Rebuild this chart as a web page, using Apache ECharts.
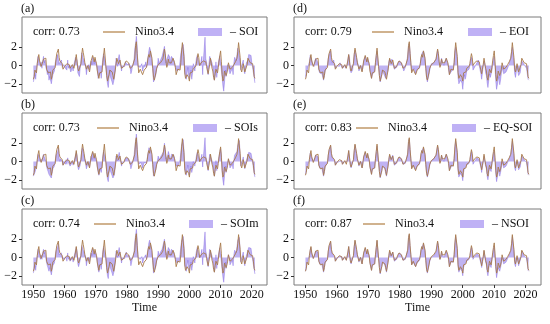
<!DOCTYPE html>
<html><head><meta charset="utf-8">
<script src="https://cdn.jsdelivr.net/npm/echarts@6/dist/echarts.min.js"></script>
<style>html,body{margin:0;padding:0;background:#fff}#c{width:550px;height:324px}</style>
</head><body><div id="c"></div>
<script>
// time axis: 4 samples per year (DJF, MAM, JJA, SON) starting 1950
const startYear = 1950.04, stepYear = 0.25;
const xTicks = [1950, 1960, 1970, 1980, 1990, 2000, 2010, 2020];
const yTicks = [-2, 0, 2];
const panelLabels = ['(a)', '(b)', '(c)', '(d)', '(e)', '(f)'];
const corrTexts = ['corr: 0.73', 'corr: 0.73', 'corr: 0.74', 'corr: 0.79', 'corr: 0.83', 'corr: 0.87'];
const indexNames = ['– SOI', '– SOIs', '– SOIm', '– EOI', '– EQ-SOI', '– NSOI'];

const nino34 = [
-1.5,-1.2,-0.5,-0.5, -0.8,0.2,0.8,1.2, 0.5,0.3,-0.1,0.1, 0.4,0.7,0.7,0.8, 0.8,-0.4,-0.6,-0.8,
-0.7,-0.8,-0.7,-1.5, -1.1,-0.5,-0.6,-0.5, -0.2,0.7,1.3,1.4, 1.8,0.9,0.5,0.4, 0.6,0.2,-0.4,-0.2,
-0.1,0.0,0.1,0.2, 0.0,0.1,0.1,-0.3, -0.1,-0.1,0.1,-0.1, -0.3,-0.1,0.6,1.2, 1.1,-0.3,-0.6,-0.8,
-0.6,0.2,1.2,1.9, 1.4,0.9,0.3,0.1, -0.4,-0.5,0.0,-0.4, -0.7,-0.5,0.5,0.4, 1.1,0.8,0.4,0.9,
0.5,0.2,-0.6,-0.7, -1.4,-0.8,-0.8,-0.9, -0.7,0.3,1.1,1.9, 1.9,-0.1,-1.1,-1.7, -1.8,-1.0,-0.5,-0.6,
-0.5,-0.7,-1.1,-1.5, -1.6,-0.5,0.2,0.8, 0.6,0.2,0.4,0.6, 0.7,-0.3,-0.4,-0.3, -0.1,0.2,0.1,0.5,
0.6,0.4,0.3,0.0, -0.3,-0.4,-0.3,-0.1, 0.0,0.5,0.8,2.2, 2.6,1.3,0.3,-0.8, -0.6,-0.4,-0.3,-0.6,
-1.0,-0.8,-0.5,-0.3, -0.5,-0.2,0.2,0.9, 1.2,0.9,1.6,1.5, 0.8,-0.3,-1.3,-1.6, -1.7,-0.8,-0.3,-0.2,
0.1,0.3,0.3,0.3, 0.4,0.3,0.7,0.8, 1.8,1.3,0.4,-0.2, 0.1,0.7,0.3,0.1, 0.1,0.3,0.4,0.8,
1.0,0.3,-0.2,-1.0, -0.9,-0.4,-0.3,-0.4, -0.5,0.3,1.6,2.5, 2.5,1.0,-0.8,-1.4, -1.5,-1.0,-1.1,-1.3,
-1.7,-0.8,-0.6,-0.6, -0.7,-0.3,-0.1,-0.3, -0.1,0.2,0.8,1.3, 0.9,0.0,0.1,0.3, 0.4,0.2,0.5,0.7,
0.6,0.4,-0.1,-0.3, -0.9,-0.4,0.1,0.8, 0.7,-0.3,-0.6,-1.3, -1.6,-0.9,-0.4,-0.4, -0.8,-0.2,0.5,1.1,
1.6,0.4,-1.0,-1.7, -1.4,-0.6,-0.5,-1.1, -0.8,-0.4,0.3,0.2, -0.4,-0.2,-0.4,-0.2, -0.4,0.1,0.1,0.4,
0.6,0.8,1.5,2.5, 2.7,0.9,-0.4,-0.7, -0.3,0.2,0.1,-0.7, -0.9,-0.5,0.1,0.8, 0.7,0.7,0.3,0.3,
0.5,0.2,-0.4,-1.2, -1.4];

const negSOI = [
-1.8,-1.6,-1.0,-1.5, -0.5,0.3,1.0,0.8, 0.2,-0.1,0.4,-0.3, 0.5,1.0,0.3,0.6, -0.2,-0.5,-1.0,-0.6,
-1.6,-1.2,-1.4,-2.0, -1.5,-1.0,-0.8,-0.6, 0.3,0.6,0.7,1.2, 1.4,0.2,0.1,0.4, 0.6,-0.2,-0.3,0.1,
-0.2,-0.4,0.0,-0.5, 0.6,-0.3,0.0,-0.4, -0.7,-0.5,-0.2,-0.6, 0.1,0.2,0.9,1.1, 0.6,-0.8,-1.0,-1.2,
-0.3,0.5,1.4,1.3, 1.2,0.4,0.3,-0.1, -1.0,-0.4,-0.3,0.1, -0.5,0.2,0.5,0.1, 0.9,0.6,0.2,0.7,
0.7,0.1,-0.5,-1.4, -1.6,-1.5,-0.7,-1.4, -0.2,0.8,1.3,1.0, 1.2,-0.3,-1.3,-2.0, -2.4,-1.4,-0.5,-1.3,
-1.1,-1.2,-2.1,-1.9, -1.3,-0.4,0.8,0.4, -0.1,0.8,1.2,1.2, 1.4,-0.6,-0.1,0.0, -0.3,-0.1,0.4,0.6,
0.1,0.3,0.2,0.2, -0.2,-0.9,-0.6,-0.1, 0.2,0.6,1.8,2.4, 3.2,2.2,-0.1,-0.1, 0.1,-0.2,0.0,0.2,
-0.6,-0.7,0.1,-0.2, 0.4,-0.2,0.5,0.9, 1.6,2.0,1.7,1.1, 0.2,-0.4,-1.8,-1.8, -1.6,-1.0,-0.4,-0.1,
0.8,0.2,0.4,0.6, 0.4,1.0,0.9,1.2, 2.1,1.2,0.3,0.6, 0.8,1.2,1.0,0.9, 0.2,1.0,1.2,1.1,
0.6,0.7,-0.2,-0.3, -0.6,-0.7,-0.6,-0.4, 0.5,1.3,1.8,1.7, 2.3,1.5,-0.8,-1.1, -1.5,-0.8,-0.2,-1.1,
-1.4,-1.5,-0.5,-1.5, -0.8,0.2,0.3,-0.6, 0.2,0.8,1.1,0.8, 0.3,0.5,0.0,-0.1, 1.0,-1.0,0.7,0.5,
3.1,0.7,0.4,-0.6, -1.0,0.2,1.0,1.1, 0.8,0.3,0.1,-0.8, -1.6,-1.1,0.4,-1.3, -1.4,0.3,0.2,1.1,
1.3,1.0,-1.4,-2.3, -2.8,-1.8,-0.5,-1.2, -0.7,0.1,0.3,0.0, -0.9,-0.8,-1.0,-0.3, -1.0,0.3,0.9,0.8,
0.5,1.2,1.9,1.8, 2.1,0.6,-0.5,0.0, -0.1,0.6,-0.6,-0.9, -0.9,0.3,0.5,0.6, 1.2,1.0,1.0,1.1,
0.3,-0.2,-0.8,-1.3, -1.9];

const negSOIs = [
-1.6,-1.4,-1.2,-1.3, -0.6,0.1,0.8,1.0, 0.3,0.0,0.2,-0.2, 0.4,0.8,0.5,0.5, 0.0,-0.6,-0.8,-0.8,
-1.4,-1.3,-1.2,-1.8, -1.3,-0.8,-0.9,-0.5, 0.1,0.7,0.9,1.0, 1.5,0.4,0.0,0.3, 0.5,0.0,-0.4,0.0,
-0.1,-0.3,0.2,-0.3, 0.4,-0.1,0.1,-0.5, -0.5,-0.6,-0.1,-0.4, 0.0,0.3,0.7,1.0, 0.7,-0.6,-0.9,-1.1,
-0.4,0.4,1.2,1.5, 1.1,0.6,0.2,0.0, -0.8,-0.5,-0.2,0.0, -0.6,0.0,0.6,0.2, 1.0,0.7,0.3,0.6,
0.6,0.0,-0.6,-1.2, -1.5,-1.3,-0.8,-1.2, -0.4,0.6,1.2,1.3, 1.4,-0.2,-1.2,-1.9, -2.2,-1.3,-0.6,-1.1,
-0.9,-1.1,-1.8,-1.8, -1.4,-0.5,0.6,0.5, 0.1,0.6,1.0,1.0, 1.2,-0.5,-0.2,-0.1, -0.2,0.0,0.3,0.5,
0.3,0.4,0.2,0.1, -0.3,-0.8,-0.5,-0.2, 0.1,0.6,1.5,2.3, 3.0,2.0,0.1,-0.3, -0.1,-0.3,-0.1,0.0,
-0.7,-0.7,-0.1,-0.3, 0.1,-0.2,0.4,0.9, 1.5,1.7,1.7,1.2, 0.4,-0.4,-1.6,-1.8, -1.7,-0.9,-0.4,-0.2,
0.6,0.2,0.3,0.5, 0.4,0.8,0.8,1.1, 2.0,1.3,0.3,0.4, 0.6,1.1,0.8,0.7, 0.2,0.8,1.0,1.0,
0.7,0.6,-0.2,-0.5, -0.7,-0.6,-0.5,-0.4, 0.2,1.0,1.8,2.0, 2.4,1.3,-0.8,-1.2, -1.5,-0.9,-0.4,-1.2,
-1.5,-1.3,-0.5,-1.2, -0.8,0.0,0.2,-0.5, 0.1,0.6,1.0,1.0, 0.5,0.3,0.0,0.0, 0.8,-0.6,0.6,0.6,
2.6,0.6,0.2,-0.5, -1.0,0.0,0.8,1.0, 0.8,0.1,-0.1,-1.0, -1.6,-1.0,0.1,-1.0, -1.2,0.1,0.3,1.1,
1.4,0.8,-1.3,-2.1, -2.6,-1.5,-0.5,-1.2, -0.7,-0.1,0.3,0.1, -0.7,-0.6,-0.8,-0.3, -0.8,0.2,0.7,0.7,
0.5,1.1,1.8,2.0, 2.3,0.7,-0.5,-0.2, -0.2,0.5,-0.4,-0.8, -0.9,0.1,0.4,0.7, 1.0,0.9,0.8,0.9,
0.4,-0.1,-0.7,-1.3, -1.7];

const negSOIm = [
-1.7,-1.5,-0.9,-1.4, -0.6,0.2,0.9,0.9, 0.3,-0.2,0.3,-0.2, 0.5,0.9,0.4,0.7, -0.1,-0.6,-0.9,-0.7,
-1.5,-1.1,-1.3,-1.9, -1.4,-0.9,-0.7,-0.6, 0.2,0.7,0.8,1.1, 1.5,0.3,0.2,0.3, 0.5,-0.1,-0.3,0.0,
-0.2,-0.3,0.1,-0.4, 0.5,-0.2,0.1,-0.4, -0.6,-0.5,-0.1,-0.5, 0.0,0.2,0.8,1.1, 0.7,-0.7,-1.0,-1.1,
-0.3,0.5,1.3,1.4, 1.2,0.5,0.3,0.0, -0.9,-0.4,-0.2,0.0, -0.5,0.1,0.5,0.2, 1.0,0.6,0.3,0.7,
0.7,0.1,-0.5,-1.3, -1.6,-1.4,-0.7,-1.3, -0.3,0.7,1.2,1.2, 1.3,-0.3,-1.3,-2.0, -2.3,-1.3,-0.5,-1.2,
-1.0,-1.2,-2.0,-1.9, -1.3,-0.4,0.7,0.5, 0.0,0.7,1.1,1.1, 1.3,-0.6,-0.1,0.0, -0.3,-0.1,0.3,0.6,
0.2,0.3,0.2,0.2, -0.2,-0.9,-0.5,-0.1, 0.2,0.6,1.7,2.4, 3.1,2.1,0.0,-0.2, 0.0,-0.2,0.0,0.1,
-0.6,-0.7,0.0,-0.2, 0.3,-0.2,0.5,0.9, 1.6,1.9,1.7,1.1, 0.3,-0.4,-1.7,-1.8, -1.6,-1.0,-0.4,-0.1,
0.7,0.2,0.4,0.6, 0.4,0.9,0.9,1.1, 2.0,1.2,0.3,0.5, 0.7,1.1,0.9,0.8, 0.2,0.9,1.1,1.1,
0.6,0.7,-0.2,-0.4, -0.6,-0.7,-0.6,-0.4, 0.4,1.2,1.8,1.8, 2.3,1.4,-0.8,-1.1, -1.5,-0.8,-0.3,-1.1,
-1.4,-1.4,-0.5,-1.4, -0.8,0.1,0.3,-0.6, 0.2,0.7,1.1,0.9, 0.4,0.4,0.0,-0.1, 0.9,-0.8,0.7,0.5,
2.8,0.7,0.3,-0.6, -1.0,0.1,0.9,1.1, 0.8,0.2,0.0,-0.9, -1.6,-1.1,0.3,-1.2, -1.3,0.2,0.2,1.1,
1.3,0.9,-1.4,-2.2, -2.7,-1.7,-0.5,-1.2, -0.7,0.0,0.3,0.0, -0.8,-0.7,-0.9,-0.3, -0.9,0.3,0.8,0.8,
0.5,1.2,1.9,1.9, 2.2,0.6,-0.5,-0.1, -0.1,0.6,-0.5,-0.9, -0.9,0.2,0.5,0.6, 1.1,1.0,0.9,1.0,
0.3,-0.2,-0.8,-1.3, -1.8];

const negEOI = [
-1.3,-1.0,-0.6,-0.8, -0.4,0.4,1.1,1.2, 0.6,0.2,0.1,-0.1, 0.5,0.8,0.6,0.7, 0.3,-0.5,-0.8,-0.7,
-1.0,-0.9,-1.0,-1.6, -1.2,-0.6,-0.6,-0.4, 0.1,0.8,1.2,1.3, 1.6,0.6,0.3,0.4, 0.6,0.0,-0.3,-0.1,
0.0,-0.1,0.2,-0.1, 0.3,0.0,0.1,-0.3, -0.3,-0.3,0.0,-0.3, -0.1,0.1,0.7,1.2, 0.9,-0.5,-0.8,-1.0,
-0.5,0.3,1.3,1.7, 1.3,0.8,0.4,0.1, -0.6,-0.5,-0.1,-0.2, -0.6,-0.3,0.5,0.4, 1.0,0.8,0.4,0.8,
0.6,0.2,-0.5,-0.9, -1.4,-1.0,-0.8,-1.0, -0.6,0.4,1.1,1.6, 1.6,-0.1,-1.1,-1.8, -1.9,-1.1,-0.5,-0.8,
-0.7,-0.9,-1.4,-1.6, -1.4,-0.5,0.4,0.7, 0.4,0.4,0.7,0.8, 0.9,-0.4,-0.3,-0.2, -0.2,0.1,0.2,0.5,
0.5,0.4,0.3,0.1, -0.3,-0.6,-0.4,-0.2, 0.0,0.5,1.2,2.1, 2.4,1.6,0.2,-0.6, -0.4,-0.4,-0.3,-0.4,
-0.9,-0.8,-0.4,-0.4, -0.3,-0.3,0.3,0.8, 1.3,1.3,1.6,1.3, 0.6,-0.4,-1.4,-1.8, -1.8,-1.0,-0.5,-0.4,
0.2,0.1,0.2,0.3, 0.3,0.5,0.7,0.9, 1.7,1.2,0.3,0.0, 0.2,0.8,0.5,0.3, 0.0,0.4,0.6,0.8,
0.7,0.2,-0.5,-1.0, -1.1,-0.7,-0.6,-0.7, -0.4,0.4,1.6,2.0, 2.2,0.8,-1.3,-2.0, -2.2,-1.6,-1.4,-1.9,
-2.6,-1.6,-1.0,-1.5, -1.2,-0.6,-0.4,-0.8, -0.4,0.0,0.6,0.9, 0.4,-0.5,-0.3,-0.2, 0.0,-0.4,0.3,0.4,
0.6,0.0,-0.5,-0.9, -1.5,-0.8,0.0,0.5, 0.2,-0.8,-1.1,-1.9, -2.4,-1.6,-0.9,-1.3, -1.3,-0.6,0.1,0.7,
1.0,-0.2,-1.8,-2.6, -2.8,-1.6,-1.2,-2.1, -1.6,-0.9,-0.2,-0.4, -0.9,-0.8,-1.1,-0.7, -0.8,-0.3,-0.1,0.2,
0.4,0.8,1.5,2.0, 2.1,0.5,-0.9,-1.3, -0.7,-0.2,-0.3,-1.1, -1.2,-0.8,-0.1,0.5, 0.6,0.4,0.1,0.2,
0.1,-0.3,-0.9,-1.5, -1.6];

const negEQSOI = [
-1.4,-1.1,-0.7,-0.7, -0.6,0.2,0.9,1.1, 0.4,0.2,0.0,0.0, 0.4,0.7,0.6,0.7, 0.5,-0.4,-0.7,-0.8,
-0.8,-0.8,-0.9,-1.6, -1.2,-0.6,-0.6,-0.5, -0.1,0.7,1.2,1.3, 1.7,0.8,0.4,0.4, 0.6,0.1,-0.4,-0.2,
-0.1,-0.1,0.1,0.0, 0.2,0.0,0.1,-0.3, -0.2,-0.2,0.0,-0.2, -0.2,0.0,0.6,1.2, 1.0,-0.4,-0.7,-0.9,
-0.6,0.2,1.2,1.8, 1.3,0.8,0.3,0.1, -0.5,-0.5,0.0,-0.3, -0.7,-0.4,0.5,0.4, 1.0,0.8,0.4,0.8,
0.5,0.2,-0.6,-0.8, -1.4,-0.9,-0.8,-1.0, -0.7,0.3,1.1,1.7, 1.7,-0.1,-1.1,-1.8, -1.9,-1.1,-0.5,-0.7,
-0.6,-0.8,-1.3,-1.6, -1.5,-0.5,0.3,0.7, 0.5,0.3,0.5,0.7, 0.8,-0.4,-0.4,-0.3, -0.2,0.1,0.1,0.5,
0.5,0.4,0.3,0.0, -0.3,-0.5,-0.4,-0.2, 0.0,0.5,1.0,2.1, 2.5,1.4,0.2,-0.7, -0.5,-0.4,-0.3,-0.5,
-0.9,-0.8,-0.5,-0.4, -0.4,-0.3,0.2,0.8, 1.2,1.1,1.5,1.4, 0.7,-0.4,-1.3,-1.7, -1.8,-0.9,-0.4,-0.3,
0.1,0.2,0.2,0.3, 0.3,0.4,0.7,0.9, 1.7,1.2,0.3,-0.1, 0.1,0.7,0.4,0.2, 0.0,0.3,0.5,0.8,
0.8,0.2,-0.4,-1.0, -1.0,-0.6,-0.5,-0.6, -0.4,0.3,1.6,2.2, 2.3,0.9,-1.1,-1.7, -1.9,-1.3,-1.2,-1.6,
-2.1,-1.2,-0.8,-1.0, -0.9,-0.4,-0.3,-0.5, -0.2,0.1,0.7,1.1, 0.6,-0.3,-0.1,0.0, 0.2,-0.1,0.4,0.5,
0.6,0.2,-0.3,-0.6, -1.2,-0.6,0.0,0.6, 0.4,-0.5,-0.8,-1.6, -2.0,-1.3,-0.7,-0.9, -1.1,-0.4,0.3,0.9,
1.2,0.1,-1.4,-2.2, -2.3,-1.2,-0.9,-1.6, -1.2,-0.7,0.0,-0.1, -0.7,-0.5,-0.8,-0.5, -0.6,-0.1,0.0,0.3,
0.5,0.8,1.5,2.2, 2.3,0.6,-0.7,-1.0, -0.5,0.0,-0.1,-0.9, -1.1,-0.6,0.0,0.6, 0.6,0.5,0.2,0.2,
0.2,-0.1,-0.7,-1.4, -1.5];

const negNSOI = [
-1.5,-1.2,-0.6,-0.6, -0.7,0.2,0.8,1.1, 0.5,0.2,-0.1,0.0, 0.4,0.7,0.6,0.7, 0.6,-0.4,-0.7,-0.8,
-0.8,-0.8,-0.8,-1.6, -1.2,-0.6,-0.6,-0.5, -0.2,0.7,1.2,1.3, 1.7,0.8,0.4,0.4, 0.6,0.1,-0.4,-0.2,
-0.1,-0.1,0.1,0.1, 0.1,0.1,0.1,-0.3, -0.2,-0.2,0.0,-0.2, -0.3,-0.1,0.6,1.2, 1.0,-0.4,-0.7,-0.9,
-0.6,0.2,1.2,1.8, 1.3,0.8,0.3,0.1, -0.5,-0.5,0.0,-0.4, -0.7,-0.5,0.5,0.4, 1.0,0.8,0.4,0.8,
0.5,0.2,-0.6,-0.8, -1.4,-0.9,-0.8,-1.0, -0.7,0.3,1.1,1.8, 1.8,-0.1,-1.1,-1.8, -1.9,-1.0,-0.5,-0.7,
-0.6,-0.8,-1.2,-1.6, -1.6,-0.5,0.2,0.7, 0.5,0.2,0.4,0.6, 0.7,-0.4,-0.4,-0.3, -0.2,0.1,0.1,0.5,
0.5,0.4,0.3,0.0, -0.3,-0.5,-0.4,-0.2, 0.0,0.5,0.9,2.1, 2.5,1.3,0.2,-0.8, -0.6,-0.5,-0.4,-0.6,
-1.0,-0.9,-0.6,-0.4, -0.5,-0.3,0.2,0.8, 1.1,0.9,1.5,1.4, 0.7,-0.4,-1.4,-1.7, -1.8,-0.9,-0.4,-0.3,
0.0,0.2,0.2,0.2, 0.3,0.3,0.6,0.8, 1.7,1.2,0.3,-0.2, 0.0,0.6,0.3,0.1, 0.0,0.2,0.4,0.7,
0.9,0.2,-0.3,-1.0, -1.0,-0.5,-0.4,-0.5, -0.5,0.3,1.6,2.3, 2.4,0.9,-1.0,-1.6, -1.8,-1.2,-1.2,-1.5,
-2.0,-1.1,-0.8,-0.9, -0.9,-0.4,-0.2,-0.5, -0.2,0.1,0.7,1.1, 0.7,-0.2,0.0,0.1, 0.2,0.0,0.4,0.6,
0.5,0.2,-0.3,-0.6, -1.1,-0.6,0.0,0.7, 0.5,-0.5,-0.8,-1.6, -2.0,-1.3,-0.7,-0.8, -1.1,-0.4,0.3,0.9,
1.3,0.1,-1.4,-2.2, -2.2,-1.1,-0.9,-1.5, -1.1,-0.7,0.0,-0.1, -0.7,-0.5,-0.8,-0.5, -0.7,-0.1,0.0,0.3,
0.5,0.7,1.4,2.3, 2.4,0.7,-0.7,-1.0, -0.5,0.0,-0.1,-0.9, -1.1,-0.7,0.0,0.7, 0.6,0.5,0.2,0.2,
0.3,-0.1,-0.7,-1.4, -1.5];

const indexSeries = [negSOI, negSOIs, negSOIm, negEOI, negEQSOI, negNSOI];

const FONT = 'Liberation Serif';
const NINO_COLOR = '#a87a4c';
const FILL_COLOR = 'rgba(110, 80, 225, 0.62)';
const LEGEND_FILL = 'rgba(112, 82, 232, 0.45)';
const BORDER = '#7a7a7a';
const TEXT = '#111';

// layout (pixels)
const colLeft = [22, 294], colWidth = [245, 247];
const rowTop = [17, 113, 209], rowH = 76;
const ninoLegendX = [103, 97, 94, 372, 356, 363];
const fillLegendX = [198, 193, 189, 468, 452, 460];

function pairs(arr) { return arr.map((v, i) => [startYear + i * stepYear, v]); }

const grid = [], xAxis = [], yAxis = [], series = [], legend = [], title = [];
for (let p = 0; p < 6; p++) {
  const col = Math.floor(p / 3), row = p % 3;
  const gx = colLeft[col], gy = rowTop[row], gw = colWidth[col];
  grid.push({ left: gx, top: gy, width: gw, height: rowH, show: true, borderColor: BORDER, borderWidth: 1, backgroundColor: 'transparent' });
  xAxis.push({
    type: 'value', gridIndex: p, min: 1946.4, max: 2024.9,
    axisLine: { show: false, onZero: false },
    splitLine: { show: false },
    axisTick: { show: row === 2, inside: false, length: 3, lineStyle: { color: '#333' }, customValues: xTicks },
    axisLabel: { show: row === 2, customValues: xTicks, margin: 3.5, fontFamily: FONT, fontSize: 12, color: TEXT,
      formatter: v => String(v) },
    name: row === 2 ? 'Time' : '', nameLocation: 'middle', nameGap: 17,
    nameTextStyle: { fontFamily: FONT, fontSize: 12, color: TEXT }
  });
  yAxis.push({
    type: 'value', gridIndex: p, min: -3, max: 5.3,
    axisLine: { show: false, onZero: false },
    splitLine: { show: false },
    axisTick: { show: true, inside: false, length: 3, lineStyle: { color: '#333' }, customValues: yTicks },
    axisLabel: { customValues: yTicks, margin: 5, fontFamily: FONT, fontSize: 12, color: TEXT,
      formatter: v => (v < 0 ? '\u2212' + Math.abs(v) : String(v)) }
  });
  series.push({
    name: indexNames[p], type: 'line', xAxisIndex: p, yAxisIndex: p,
    data: pairs(indexSeries[p]), showSymbol: false, symbol: 'none',
    lineStyle: { width: 0.5, color: 'rgba(105,75,220,0.7)' },
    itemStyle: { color: LEGEND_FILL },
    areaStyle: { color: FILL_COLOR, origin: 0 }, z: 2
  });
  series.push({
    name: 'Nino3.4', type: 'line', xAxisIndex: p, yAxisIndex: p,
    data: pairs(nino34), showSymbol: false, symbol: 'none',
    lineStyle: { width: 0.9, color: NINO_COLOR }, itemStyle: { color: NINO_COLOR }, z: 3
  });
  legend.push({
    left: ninoLegendX[p], top: gy + 9, padding: 0, itemWidth: 22, itemHeight: 1.5, selectedMode: false,
    data: [{ name: 'Nino3.4', icon: 'rect', itemStyle: { color: '#c09868', borderWidth: 0 } }],
    textStyle: { fontFamily: FONT, fontSize: 12, color: TEXT, padding: [0, 0, 0, 5] }
  });
  legend.push({
    left: fillLegendX[p], top: gy + 9, padding: 0, itemWidth: 24, itemHeight: 8, selectedMode: false,
    data: [{ name: indexNames[p], icon: 'rect', itemStyle: { color: LEGEND_FILL, borderWidth: 0 } }],
    textStyle: { fontFamily: FONT, fontSize: 12, color: TEXT, padding: [0, 0, 0, 3] }
  });
  title.push({ text: panelLabels[p], left: gx - 1, top: gy - 14, padding: 0,
    textStyle: { fontFamily: FONT, fontSize: 12, fontWeight: 'normal', color: TEXT } });
  title.push({ text: corrTexts[p], left: gx + 11, top: gy + 9, padding: 0,
    textStyle: { fontFamily: FONT, fontSize: 12, fontWeight: 'normal', color: TEXT } });
}

const chart = echarts.init(document.getElementById('c'), null, { renderer: 'canvas' });
chart.setOption({ animation: false, backgroundColor: '#fff', grid, xAxis, yAxis, series, legend, title });
</script></body></html>
